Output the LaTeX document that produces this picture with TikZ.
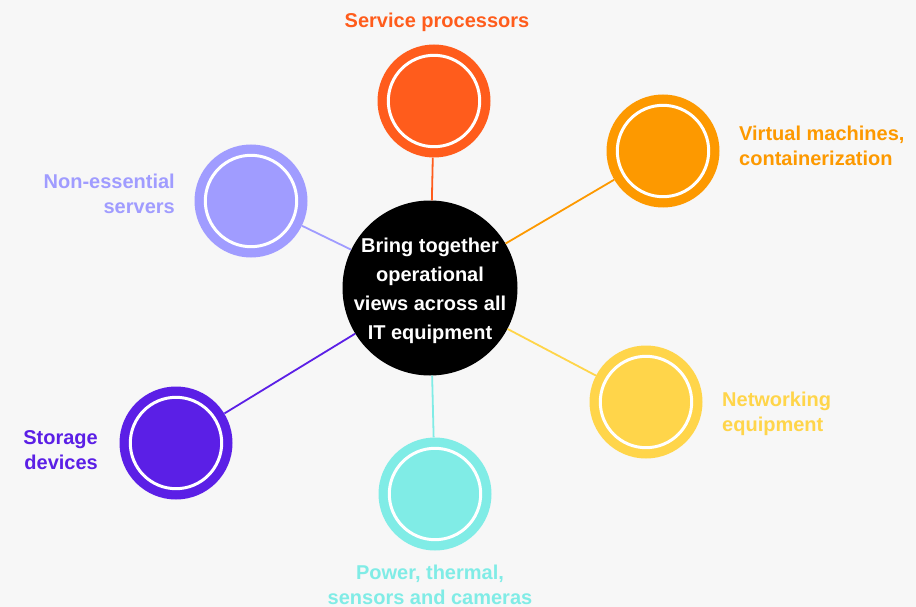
\documentclass[tikz,border=0pt]{standalone}
\usepackage{fontspec}
\setmainfont{Liberation Sans}
\definecolor{bg}{HTML}{F7F7F7}
\definecolor{cSP}{HTML}{FF5C1C}
\definecolor{cVM}{HTML}{FD9900}
\definecolor{cNE}{HTML}{A09CFF}
\definecolor{cNW}{HTML}{FFD54A}
\definecolor{cPW}{HTML}{80ECE6}
\definecolor{cST}{HTML}{5B1FE6}
\begin{document}
\begin{tikzpicture}[x=1pt,y=-1pt,
  sat/.style={circle,fill=#1,draw=none,minimum size=113pt,inner sep=0pt},
  hub/.style={circle,fill=black,minimum size=175pt,inner sep=0pt},
  hubtxt/.style={align=center,text=white,inner sep=0pt,font=\fontsize{20}{29}\selectfont\bfseries},
  link/.style={draw=#1,line width=1.8pt},
  lbl/.style={text=#1,font=\fontsize{20}{25}\selectfont\bfseries,inner sep=0pt}
]
\fill[bg] (0,0) rectangle (916,607);
\useasboundingbox (0,0) rectangle (916,607);
\node[hub] (c) at (430,288) {};
\node[sat=cSP] (sp) at (434,101) {};
\node[sat=cVM] (vm) at (663,151) {};
\node[sat=cNE] (ne) at (251,201) {};
\node[sat=cNW] (nw) at (646,402) {};
\node[sat=cPW] (pw) at (435,494) {};
\node[sat=cST] (st) at (176,443) {};
\draw[link=cSP] (c) -- (sp);
\draw[link=cVM] (c) -- (vm);
\draw[link=cNE] (c) -- (ne);
\draw[link=cNW] (c) -- (nw);
\draw[link=cPW] (c) -- (pw);
\draw[link=cST] (c) -- (st);
\foreach \n in {sp,vm,ne,nw,pw,st}{\draw[white,line width=3pt] (\n) circle (45.7);}
\node[hubtxt] (ct) at (430,291) {Bring together\\operational\\views across all\\IT equipment};
\node[lbl=cSP] (tsp) at (437,22) {Service processors};
\node[lbl=cVM,align=left,anchor=west] (tvm) at (739,145.5) {Virtual machines,\\containerization};
\node[lbl=cNE,align=right,anchor=east] (tne) at (175,194) {Non-essential\\servers};
\node[lbl=cNW,align=left,anchor=west] (tnw) at (722,414) {Networking\\equipment};
\node[lbl=cST,align=right,anchor=east] (tst) at (98,450) {Storage\\devices};
\node[lbl=cPW,align=center] (tpw) at (430,584.5) {Power, thermal,\\sensors and cameras};
\end{tikzpicture}
\end{document}
